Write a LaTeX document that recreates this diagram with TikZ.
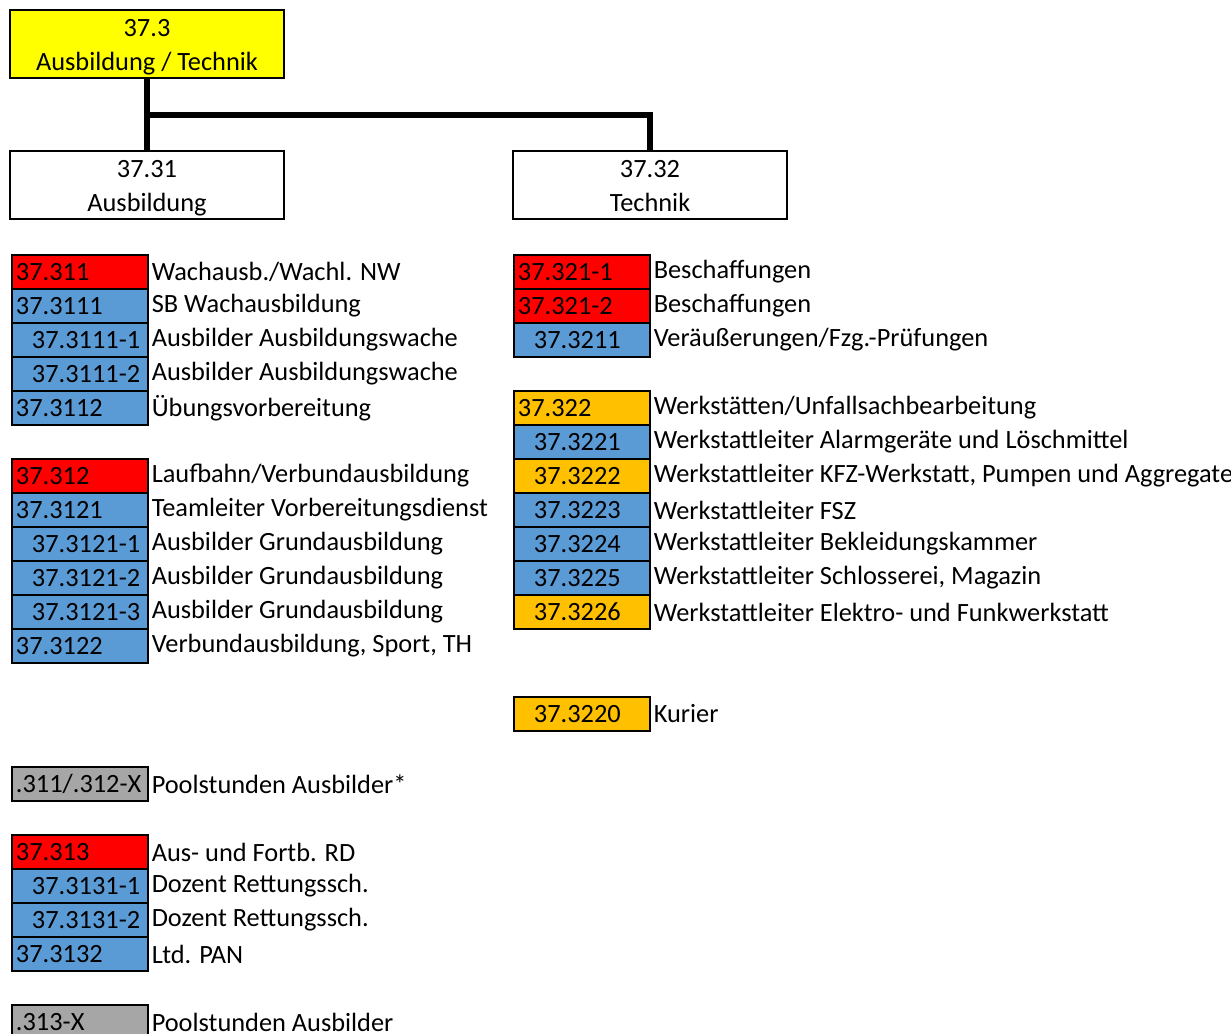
\documentclass[tikz,border=0pt]{standalone}
\usepackage{fontspec}
\setmainfont{Carlito}
\usetikzlibrary{positioning}

\definecolor{gelb}{HTML}{FFFF00}
\definecolor{rot}{HTML}{FF0000}
\definecolor{blau}{HTML}{5B9BD5}
\definecolor{orange}{HTML}{FFC000}
\definecolor{grau}{HTML}{A6A6A6}

\tikzset{
  box/.style={draw, line width=1.1pt, minimum width=5.48cm, minimum height=1.36cm, align=center, inner sep=0pt, text height=1.08cm, text depth=0cm},
  code/.style={draw, line width=1.1pt, anchor=north west, text width=2.56cm, inner xsep=0.08cm, inner ysep=0pt, minimum height=0.68cm, align=left},
  desc/.style={inner sep=0pt},
  conn/.style={line width=3.4pt},
}
\newcommand{\ein}{\hspace*{0.32cm}}

\begin{document}
\begin{tikzpicture}[x=0.02cm,y=-0.02cm,font=\fontsize{15pt}{19.35pt}\selectfont]

\useasboundingbox (0,0) rectangle (1231,1034);

%Kopf

\node[box, fill=gelb] (t3) at (147,44) {37.3\\Ausbildung / Technik};
\node[box] (a31) at (147,185) {37.31\\Ausbildung};
\node[box] (a32) at (650,185) {37.32\\Technik};

\coordinate (abzw) at (147,115);
\draw[conn] (t3.south) -- (a31.north);
\draw[conn] (abzw) -| (a32.north);

%Ausbildung

\node[code, fill=rot] (c311) at (11,254) {37.311};
\node[code, fill=blau] (c3111) at (11,288) {37.3111};
\node[code, fill=blau] (c3111a) at (11,322) {\ein37.3111-1};
\node[code, fill=blau] (c3111b) at (11,356) {\ein37.3111-2};
\node[code, fill=blau] (c3112) at (11,390) {37.3112};
\node[desc, right=0.05cm of c311] (d311) {Wachausb./Wachl. NW};
\node[desc, right=0.05cm of c3111] (d3111) {SB Wachausbildung};
\node[desc, right=0.05cm of c3111a] (d3111a) {Ausbilder Ausbildungswache};
\node[desc, right=0.05cm of c3111b] (d3111b) {Ausbilder Ausbildungswache};
\node[desc, right=0.05cm of c3112] (d3112) {Übungsvorbereitung};

\node[code, fill=rot] (c312) at (11,458) {37.312};
\node[code, fill=blau] (c3121) at (11,492) {37.3121};
\node[code, fill=blau] (c3121a) at (11,526) {\ein37.3121-1};
\node[code, fill=blau] (c3121b) at (11,560) {\ein37.3121-2};
\node[code, fill=blau] (c3121c) at (11,594) {\ein37.3121-3};
\node[code, fill=blau] (c3122) at (11,628) {37.3122};
\node[desc, right=0.05cm of c312] (d312) {Laufbahn/Verbundausbildung};
\node[desc, right=0.05cm of c3121] (d3121) {Teamleiter Vorbereitungsdienst};
\node[desc, right=0.05cm of c3121a] (d3121a) {Ausbilder Grundausbildung};
\node[desc, right=0.05cm of c3121b] (d3121b) {Ausbilder Grundausbildung};
\node[desc, right=0.05cm of c3121c] (d3121c) {Ausbilder Grundausbildung};
\node[desc, right=0.05cm of c3122] (d3122) {Verbundausbildung, Sport, TH};

\node[code, fill=grau] (cpool1) at (11,766) {.311/.312-X};
\node[desc, right=0.05cm of cpool1] (dpool1) {Poolstunden Ausbilder*};

\node[code, fill=rot] (c313) at (11,834) {37.313};
\node[code, fill=blau] (c3131a) at (11,868) {\ein37.3131-1};
\node[code, fill=blau] (c3131b) at (11,902) {\ein37.3131-2};
\node[code, fill=blau] (c3132) at (11,936) {37.3132};
\node[desc, right=0.05cm of c313] (d313) {Aus- und Fortb. RD};
\node[desc, right=0.05cm of c3131a] (d3131a) {Dozent Rettungssch.};
\node[desc, right=0.05cm of c3131b] (d3131b) {Dozent Rettungssch.};
\node[desc, right=0.05cm of c3132] (d3132) {Ltd. PAN};

\node[code, fill=grau] (cpool2) at (11,1004) {.313-X};
\node[desc, right=0.05cm of cpool2] (dpool2) {Poolstunden Ausbilder};

%Technik

\node[code, fill=rot] (c321a) at (513,254) {37.321-1};
\node[code, fill=rot] (c321b) at (513,288) {37.321-2};
\node[code, fill=blau] (c3211) at (513,322) {\ein37.3211};
\node[desc, right=0.05cm of c321a] (d321a) {Beschaffungen};
\node[desc, right=0.05cm of c321b] (d321b) {Beschaffungen};
\node[desc, right=0.05cm of c3211] (d3211) {Veräußerungen/Fzg.-Prüfungen};

\node[code, fill=orange] (c322) at (513,390) {37.322};
\node[code, fill=blau] (c3221) at (513,424) {\ein37.3221};
\node[code, fill=orange] (c3222) at (513,458) {\ein37.3222};
\node[code, fill=blau] (c3223) at (513,492) {\ein37.3223};
\node[code, fill=blau] (c3224) at (513,526) {\ein37.3224};
\node[code, fill=blau] (c3225) at (513,560) {\ein37.3225};
\node[code, fill=orange] (c3226) at (513,594) {\ein37.3226};
\node[desc, right=0.05cm of c322] (d322) {Werkstätten/Unfallsachbearbeitung};
\node[desc, right=0.05cm of c3221] (d3221) {Werkstattleiter Alarmgeräte und Löschmittel};
\node[desc, right=0.05cm of c3222] (d3222) {Werkstattleiter KFZ-Werkstatt, Pumpen und Aggregate};
\node[desc, right=0.05cm of c3223] (d3223) {Werkstattleiter FSZ};
\node[desc, right=0.05cm of c3224] (d3224) {Werkstattleiter Bekleidungskammer};
\node[desc, right=0.05cm of c3225] (d3225) {Werkstattleiter Schlosserei, Magazin};
\node[desc, right=0.05cm of c3226] (d3226) {Werkstattleiter Elektro- und Funkwerkstatt};

\node[code, fill=orange] (c3220) at (513,696) {\ein37.3220};
\node[desc, right=0.05cm of c3220] (d3220) {Kurier};

\end{tikzpicture}
\end{document}
